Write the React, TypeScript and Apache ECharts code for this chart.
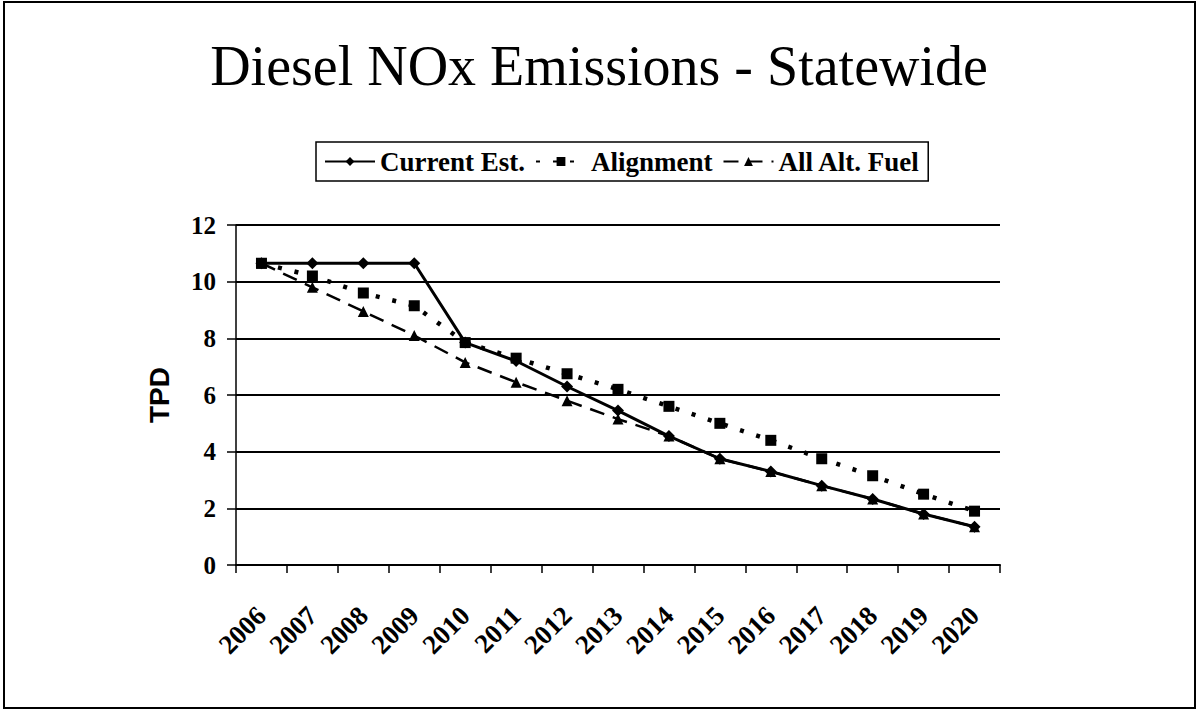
import React, { useEffect, useRef } from "react";
import * as echarts from "echarts";

const years = ["2006", "2007", "2008", "2009", "2010", "2011", "2012", "2013", "2014", "2015", "2016", "2017", "2018", "2019", "2020"];
const currentEst = [10.65, 10.65, 10.65, 10.65, 7.85, 7.2, 6.3, 5.45, 4.55, 3.75, 3.3, 2.8, 2.33, 1.8, 1.35];
const alignment = [10.65, 10.2, 9.6, 9.15, 7.85, 7.3, 6.75, 6.2, 5.6, 5.0, 4.4, 3.75, 3.15, 2.5, 1.9];
const altFuel = [10.65, 9.8, 8.95, 8.1, 7.15, 6.45, 5.8, 5.15, 4.55, 3.75, 3.3, 2.8, 2.33, 1.8, 1.35];
const yTicks = { min: 0, max: 12, interval: 2 };

export default function App() {
  const ref = useRef<HTMLDivElement>(null);
  useEffect(() => {
    document.body.style.margin = "0";
    const chart = echarts.init(ref.current!, null, { renderer: "svg" });
    const serif = "'Liberation Serif', 'Times New Roman', serif";
    chart.setOption({
      animation: false,
      backgroundColor: "#ffffff",
      title: {
        text: "Diesel NOx Emissions - Statewide",
        left: "center",
        top: 33,
        textStyle: { fontFamily: serif, fontSize: 56, fontWeight: "normal", color: "#000" },
      },
      legend: {
        top: 142,
        left: 316,
        data: ["Current Est.", "Alignment", "All Alt. Fuel"],
        borderColor: "#000",
        borderWidth: 1.5,
        padding: [6, 8, 6, 8],
        itemGap: 10,
        itemWidth: 50,
        itemHeight: 11,
        textStyle: { fontFamily: serif, fontSize: 27, fontWeight: "bold", color: "#000" },
      },
      grid: { left: 236, right: 198, top: 225, bottom: 160 },
      xAxis: {
        type: "category",
        data: years,
        boundaryGap: true,
        axisLine: { lineStyle: { color: "#000", width: 2 } },
        axisTick: { show: true, interval: 0, length: 8, lineStyle: { color: "#000", width: 1.5 } },
        axisLabel: { interval: 0, hideOverlap: false, rotate: 45, margin: 46, fontFamily: serif, fontSize: 27, fontWeight: "bold", color: "#000" },
      },
      yAxis: {
        type: "value",
        min: yTicks.min,
        max: yTicks.max,
        interval: yTicks.interval,
        name: "TPD",
        nameLocation: "middle",
        nameRotate: 90,
        nameGap: 63,
        nameTextStyle: { fontFamily: "'Liberation Sans', Arial, sans-serif", fontSize: 28, fontWeight: "bold", color: "#000" },
        axisLine: { show: true, lineStyle: { color: "#000", width: 1.5 } },
        axisTick: { show: true, length: 9, lineStyle: { color: "#000", width: 1.5 } },
        axisLabel: { margin: 20, fontFamily: serif, fontSize: 25, fontWeight: "bold", color: "#000" },
        splitLine: { show: true, lineStyle: { color: "#000", width: 2 } },
      },
      series: [
        {
          name: "Current Est.",
          type: "line",
          data: currentEst,
          symbol: "diamond",
          symbolSize: 12,
          itemStyle: { color: "#000" },
          lineStyle: { color: "#000", width: 3, type: "solid" },
        },
        {
          name: "Alignment",
          type: "line",
          data: alignment,
          symbol: "rect",
          symbolSize: 11,
          itemStyle: { color: "#000" },
          lineStyle: { color: "#000", width: 4.5, type: [4, 13] },
        },
        {
          name: "All Alt. Fuel",
          type: "line",
          data: altFuel,
          symbol: "triangle",
          symbolSize: 11,
          itemStyle: { color: "#000" },
          lineStyle: { color: "#000", width: 2.5, type: [15, 9] },
        },
      ],
      graphic: [
        {
          type: "rect",
          shape: { x: 4, y: 2, width: 1191, height: 706 },
          style: { fill: "none", stroke: "#000", lineWidth: 2 },
          silent: true,
        },
      ],
    });
    return () => chart.dispose();
  }, []);
  return <div ref={ref} style={{ width: 1198, height: 725 }} />;
}
